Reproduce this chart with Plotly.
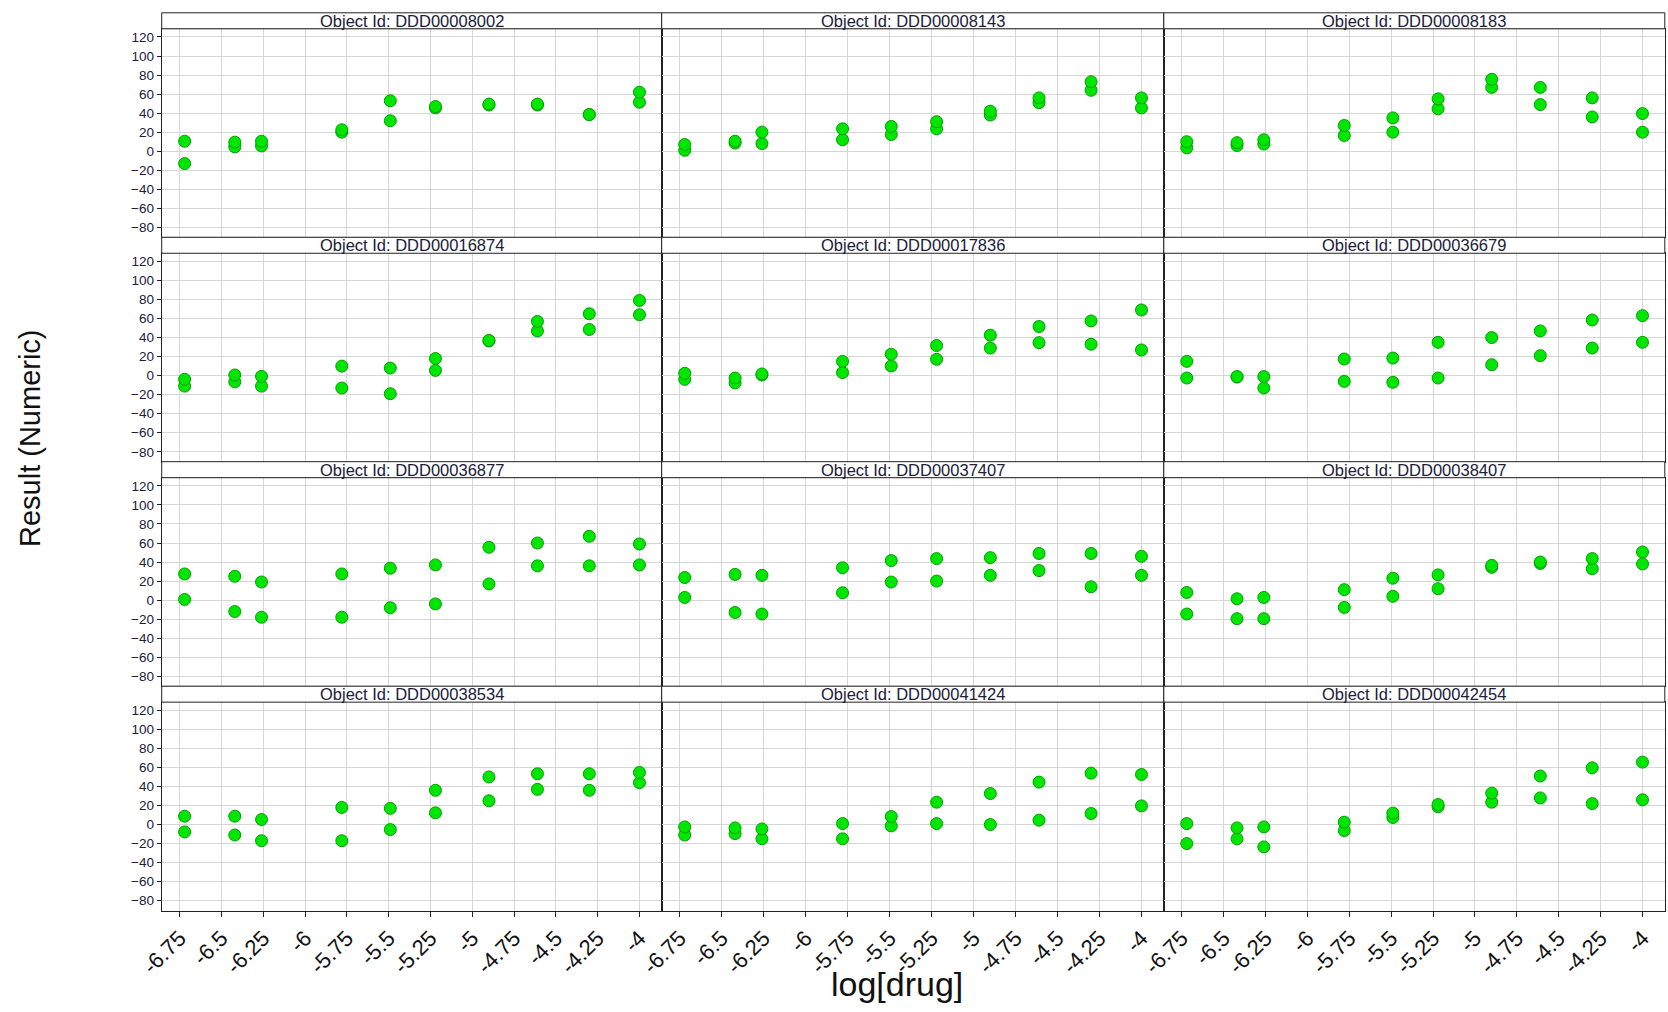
import plotly.graph_objects as go

# ---------------- data ----------------
object_ids = ["DDD00008002", "DDD00008143", "DDD00008183",
              "DDD00016874", "DDD00017836", "DDD00036679",
              "DDD00036877", "DDD00037407", "DDD00038407",
              "DDD00038534", "DDD00041424", "DDD00042454"]

log_drug = [-6.72, -6.42, -6.26, -5.78, -5.49, -5.22, -4.90, -4.61, -4.30, -4.00]

x_tick_vals = [-6.75, -6.5, -6.25, -6.0, -5.75, -5.5, -5.25, -5.0, -4.75, -4.5, -4.25, -4.0]
x_tick_text = ["-6.75", "-6.5", "-6.25", "-6", "-5.75", "-5.5", "-5.25", "-5", "-4.75", "-4.5", "-4.25", "-4"]
y_tick_vals = [-80, -60, -40, -20, 0, 20, 40, 60, 80, 100, 120]

ddd00008002_r1 = [10.5, 9.5, 10.5, 22.5, 53, 47, 49.5, 49.5, 38.5, 62]
ddd00008002_r2 = [-13, 4.5, 5.5, 20, 32, 45.5, 48.5, 48.5, 38.5, 51.5]
ddd00008143_r1 = [7, 10.5, 20, 23.5, 26, 31, 42, 56, 73, 56]
ddd00008143_r2 = [1, 8.5, 8, 12, 17.5, 23.5, 38, 51, 64, 45.5]
ddd00008183_r1 = [10, 9, 12, 27, 35, 55, 75.5, 67, 56, 39.5]
ddd00008183_r2 = [3.5, 6, 7.5, 16.5, 20, 44.5, 67, 49, 36, 20]
ddd00016874_r1 = [-3.8, 0.7, -0.7, 10, 8, 18, 37, 57, 65, 79]
ddd00016874_r2 = [-11, -6.5, -11, -13, -19, 5.5, 36.5, 47, 48.5, 64]
ddd00017836_r1 = [2.5, -2.5, 1.8, 15, 22.5, 31.6, 42.5, 51.6, 57.5, 69]
ddd00017836_r2 = [-3.9, -7.7, 0.7, 3.2, 10.2, 17.2, 29, 34.7, 33, 27]
ddd00036679_r1 = [15, -1, -1, 17.5, 18.5, 35, 40, 47, 58.5, 63]
ddd00036679_r2 = [-2.5, -1.5, -13, -6, -7, -2.5, 11.5, 21, 29, 35]
ddd00036877_r1 = [27.5, 25, 19, 27.5, 33.5, 37, 55.5, 60, 67, 59]
ddd00036877_r2 = [0.7, -12, -18, -18, -8, -4, 17, 36, 36, 37]
ddd00037407_r1 = [23.7, 27, 26, 34, 41.5, 43.6, 44.6, 49, 49, 46]
ddd00037407_r2 = [2.8, -13, -14.6, 7.7, 19, 20, 26, 31, 14, 26]
ddd00038407_r1 = [8, 1.4, 2.8, 11, 23, 26.5, 36.5, 40, 43.6, 50.5]
ddd00038407_r2 = [-14.6, -19.5, -19.5, -7.7, 4, 12, 34.4, 38.5, 33, 38]
ddd00038534_r1 = [8.8, 8.8, 5.3, 18, 17, 36, 50, 53.3, 53.3, 54.7]
ddd00038534_r2 = [-7.7, -11, -17, -17, -5.3, 12.3, 25, 37, 36, 44]
ddd00041424_r1 = [-2.5, -3.5, -4.6, 1, 8.4, 23.5, 32.6, 44.6, 54, 52.6]
ddd00041424_r2 = [-11, -9.5, -15, -15, -1.4, 1, 0, 4.6, 11.6, 19.6]
ddd00042454_r1 = [1, -3.5, -2.5, 2.5, 12, 21, 33, 51, 59.6, 65.6]
ddd00042454_r2 = [-20, -15, -23.5, -6.3, 7.4, 18.6, 23.5, 28, 22, 26]

replicates = [
    (ddd00008002_r1, ddd00008002_r2), (ddd00008143_r1, ddd00008143_r2), (ddd00008183_r1, ddd00008183_r2),
    (ddd00016874_r1, ddd00016874_r2), (ddd00017836_r1, ddd00017836_r2), (ddd00036679_r1, ddd00036679_r2),
    (ddd00036877_r1, ddd00036877_r2), (ddd00037407_r1, ddd00037407_r2), (ddd00038407_r1, ddd00038407_r2),
    (ddd00038534_r1, ddd00038534_r2), (ddd00041424_r1, ddd00041424_r2), (ddd00042454_r1, ddd00042454_r2),
]

# ---------------- layout geometry (pixels) ----------------
W, H = 1668, 1012
col_edges = [161.7, 661.7, 1163.8, 1664.8]
row_top0 = 12.8
pitch = 224.45
strip_h = 16.0
x_range = [-6.857, -3.867]
y_range = [-90.4, 128.6]

FONT = "Arial, Liberation Sans, sans-serif"
TXT = "#20203a"

fig = go.Figure()
layout = dict(
    width=W, height=H, autosize=False,
    margin=dict(l=0, r=0, t=0, b=0, autoexpand=False),
    paper_bgcolor="white", plot_bgcolor="white",
    showlegend=False,
    font=dict(family=FONT, color=TXT),
)
shapes = []
annotations = []

for k, oid in enumerate(object_ids):
    r, c = divmod(k, 3)
    sfx = "" if k == 0 else str(k + 1)
    strip_top = row_top0 + r * pitch
    plot_top = strip_top + strip_h
    plot_bot = row_top0 + (r + 1) * pitch
    x0, x1 = col_edges[c], col_edges[c + 1]
    xd = [x0 / W, x1 / W]
    yd = [1 - plot_bot / H, 1 - plot_top / H]

    bottom = (r == 3)
    left = (c == 0)
    layout["xaxis" + sfx] = dict(
        domain=xd, range=x_range, anchor="y" + sfx, automargin=False,
        tickvals=x_tick_vals, ticktext=x_tick_text,
        showticklabels=bottom, ticks="outside" if bottom else "",
        ticklen=5, tickcolor="#222", tickangle=-45,
        tickfont=dict(size=22, color="#111", family=FONT),
        showgrid=True, gridcolor="#d6d6d6", gridwidth=1,
        zeroline=False, showline=True, mirror=True,
        linecolor="#222", linewidth=1,
    )
    layout["yaxis" + sfx] = dict(
        domain=yd, range=y_range, anchor="x" + sfx, automargin=False,
        tickvals=y_tick_vals,
        showticklabels=left, ticks="outside" if left else "",
        ticklen=4, tickcolor="#222",
        tickfont=dict(size=13.5, color=TXT, family=FONT),
        showgrid=True, gridcolor="#d6d6d6", gridwidth=1,
        zeroline=False, showline=True, mirror=True,
        linecolor="#222", linewidth=1,
    )

    r1, r2 = replicates[k]
    for reps in (r2, r1):
        fig.add_trace(go.Scatter(
            x=log_drug, y=reps, mode="markers",
            xaxis="x" + sfx, yaxis="y" + sfx,
            marker=dict(size=12, color="#00e600",
                        line=dict(color="#00a000", width=1)),
            hoverinfo="x+y",
        ))

    # strip with title
    shapes.append(dict(
        type="rect", xref="paper", yref="paper",
        x0=x0 / W, x1=x1 / W,
        y0=1 - plot_top / H, y1=1 - strip_top / H,
        fillcolor="white", line=dict(color="#222", width=1), layer="above",
    ))
    annotations.append(dict(
        xref="paper", yref="paper",
        x=(x0 + x1) / 2 / W, y=1 - (strip_top + strip_h / 2) / H,
        text="Object Id: " + oid, showarrow=False,
        xanchor="center", yanchor="middle",
        font=dict(size=16.5, color=TXT, family=FONT),
    ))

annotations.append(dict(
    xref="paper", yref="paper", x=30 / W, y=1 - 438 / H,
    text="Result (Numeric)", textangle=-90, showarrow=False,
    xanchor="center", yanchor="middle",
    font=dict(size=29, color="#111", family=FONT),
))
annotations.append(dict(
    xref="paper", yref="paper", x=897 / W, y=1 - 984 / H,
    text="log[drug]", showarrow=False,
    xanchor="center", yanchor="middle",
    font=dict(size=34, color="#111", family=FONT),
))

layout["shapes"] = shapes
layout["annotations"] = annotations
fig.update_layout(**layout)

fig.write_html("out.html")
